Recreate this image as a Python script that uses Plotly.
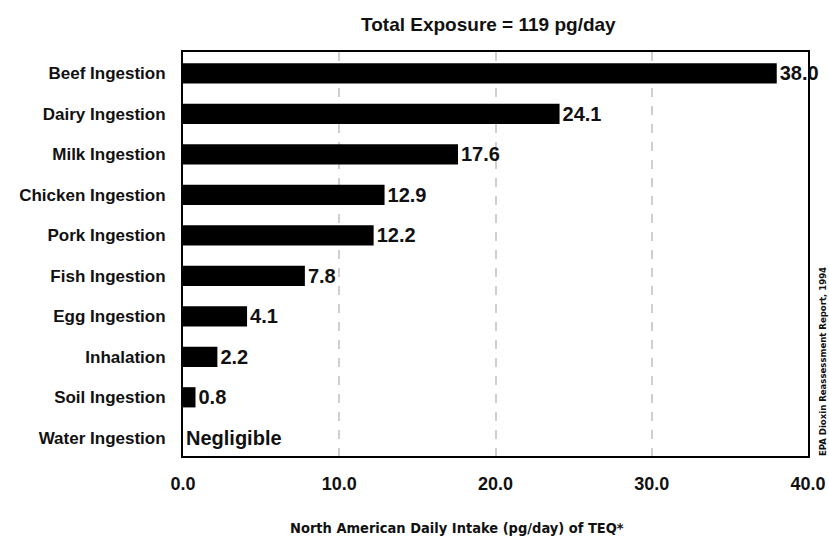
import plotly.graph_objects as go

# Daily dioxin intake by exposure pathway (pg/day TEQ)
pathways = [
    "Beef Ingestion", "Dairy Ingestion", "Milk Ingestion", "Chicken Ingestion",
    "Pork Ingestion", "Fish Ingestion", "Egg Ingestion", "Inhalation",
    "Soil Ingestion", "Water Ingestion",
]
intake = [38.0, 24.1, 17.6, 12.9, 12.2, 7.8, 4.1, 2.2, 0.8, 0.0]
value_labels = ["38.0", "24.1", "17.6", "12.9", "12.2", "7.8", "4.1", "2.2", "0.8", "Negligible"]
x_ticks = [0, 10, 20, 30, 40]
x_tick_labels = ["0.0", "10.0", "20.0", "30.0", "40.0"]

FONT = "Liberation Sans, Arial, sans-serif"
CONDENSED = "DejaVu Sans Condensed, Liberation Sans, Arial, sans-serif"
INK = "#111111"

fig = go.Figure(
    go.Bar(
        x=intake,
        y=pathways,
        orientation="h",
        marker=dict(color="#000000", line=dict(width=0)),
        text=value_labels,
        textposition="outside",
        textfont=dict(family=FONT, size=20, color=INK, weight="bold"),
        constraintext="none",
        cliponaxis=False,
        width=0.5,
        hoverinfo="skip",
    )
)

fig.update_layout(
    width=829,
    height=539,
    margin=dict(l=183, r=21, t=52, b=83, autoexpand=False),
    paper_bgcolor="white",
    plot_bgcolor="white",
    showlegend=False,
    font=dict(family=FONT, color=INK),
)

fig.update_xaxes(
    range=[0, 40],
    tickvals=x_ticks,
    ticktext=x_tick_labels,
    tickfont=dict(family=FONT, size=18, color=INK, weight="bold"),
    ticks="",
    ticklabelstandoff=10,
    automargin=False,
    showgrid=True,
    gridcolor="#cfcfcf",
    gridwidth=2,
    griddash="dash",
    zeroline=False,
    showline=True,
    linecolor="#000000",
    linewidth=2,
    mirror=True,
)

fig.update_yaxes(
    type="category",
    categoryorder="array",
    categoryarray=pathways,
    range=[9.45, -0.53],
    tickfont=dict(family=FONT, size=17, color=INK, weight="bold"),
    ticks="",
    ticklabelstandoff=12,
    automargin=False,
    showgrid=False,
    zeroline=False,
    showline=True,
    linecolor="#000000",
    linewidth=2,
    mirror=True,
)

# Chart title, axis caption and source note
fig.add_annotation(
    text="Total Exposure = 119 pg/day",
    xref="paper", yref="paper", x=(488 - 183) / 625, y=1 + (52 - 25) / 404,
    showarrow=False, xanchor="center", yanchor="middle",
    font=dict(family=FONT, size=19, color=INK, weight="bold"),
)
fig.add_annotation(
    text="North American Daily Intake (pg/day) of TEQ*",
    xref="paper", yref="paper", x=(457 - 183) / 625, y=-(528 - 456) / 404,
    showarrow=False, xanchor="center", yanchor="middle",
    font=dict(family=CONDENSED, size=14.5, color=INK, weight="bold"),
)
fig.add_annotation(
    text="EPA Dioxin Reassessment Report, 1994",
    xref="paper", yref="paper", x=(822 - 183) / 625, y=(456 - 362) / 404,
    showarrow=False, xanchor="center", yanchor="middle", textangle=-90,
    font=dict(family=CONDENSED, size=9.5, color=INK, weight="bold"),
)

fig.write_html("out.html")
